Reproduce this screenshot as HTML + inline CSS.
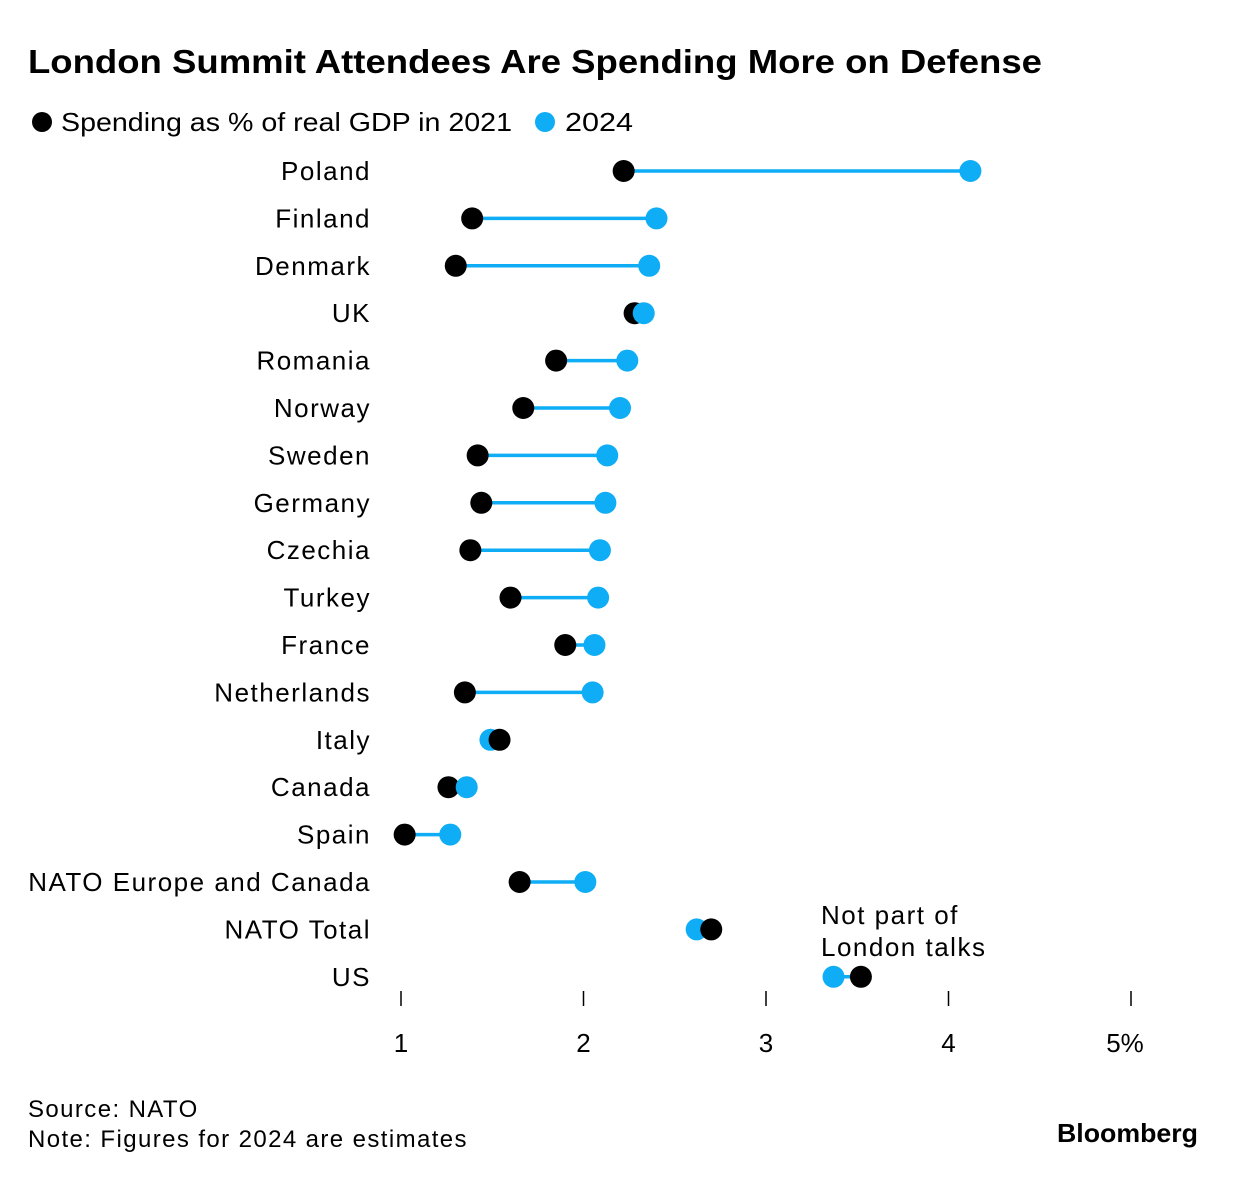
<!DOCTYPE html>
<html><head><meta charset="utf-8"><style>
body{margin:0;background:#fff;}
svg text{font-family:"Liberation Sans",Arial,sans-serif;}
</style></head><body>
<svg id="chart" width="1237" height="1194" viewBox="0 0 1237 1194" xmlns="http://www.w3.org/2000/svg">
<text x="28" y="73" font-size="33" font-weight="bold" fill="#000" textLength="1014" lengthAdjust="spacingAndGlyphs">London Summit Attendees Are Spending More on Defense</text>
<g>
<circle cx="42" cy="122" r="10" fill="#000"/>
<text x="61" y="131" font-size="26" textLength="451" lengthAdjust="spacingAndGlyphs">Spending as % of real GDP in 2021</text>
<circle cx="545" cy="122" r="10" fill="#0fadf5"/>
<text x="565" y="131" font-size="26" textLength="68" lengthAdjust="spacingAndGlyphs">2024</text>
</g>
<g id="axis"></g>
<g id="rows"></g>
<text x="821" y="924" font-size="26" letter-spacing="1.5">Not part of</text>
<text x="821" y="956" font-size="26" letter-spacing="1.5">London talks</text>
<text x="28" y="1117" font-size="24" letter-spacing="1.4">Source: NATO</text>
<text x="28" y="1147" font-size="24" letter-spacing="1.4">Note: Figures for 2024 are estimates</text>
<text x="1057" y="1142" font-size="26" font-weight="bold" textLength="141" lengthAdjust="spacingAndGlyphs">Bloomberg</text>
</svg>
<script>
const categories=["Poland","Finland","Denmark","UK","Romania","Norway","Sweden","Germany","Czechia","Turkey","France","Netherlands","Italy","Canada","Spain","NATO Europe and Canada","NATO Total","US"];
const values2021=[2.22,1.39,1.30,2.28,1.85,1.67,1.42,1.44,1.38,1.60,1.90,1.35,1.54,1.26,1.02,1.65,2.70,3.52];
const values2024=[4.12,2.40,2.36,2.33,2.24,2.20,2.13,2.12,2.09,2.08,2.06,2.05,1.49,1.36,1.27,2.01,2.62,3.37];
const tickValues=[1,2,3,4,5];
const tickLabels=["1","2","3","4","5%"];
const NS="http://www.w3.org/2000/svg";
const x=v=>401+(v-1)*182.5;
const y=i=>171+i*47.4;
function mk(tag,attrs,parent){const e=document.createElementNS(NS,tag);for(const k in attrs)e.setAttribute(k,attrs[k]);parent.appendChild(e);return e;}
const axis=document.getElementById('axis');
tickValues.forEach((t,i)=>{
 const l=mk('line',{x1:x(t),x2:x(t),y1:991,y2:1006,stroke:'#000','stroke-width':1.5},axis);
 
 
 const tx=mk('text',{x:x(t)+(i==4?-6:0),y:1052,'font-size':26,'text-anchor':'middle'},axis);
 tx.textContent=tickLabels[i];
 
 
});
const rows=document.getElementById('rows');
categories.forEach((c,i)=>{
 const g=mk('g',{},rows);
 
 
 const t=mk('text',{x:371,y:y(i)+9,'font-size':26,'text-anchor':'end','letter-spacing':1.5},g);
 t.textContent=c;
 
 
 const a=x(values2021[i]),b=x(values2024[i]);
 const ln=mk('line',{x1:a,x2:b,y1:y(i),y2:y(i),stroke:'#0fadf5','stroke-width':3.5},g);
 
 
 const order=a>b?[['2024',b,'#0fadf5'],['2021',a,'#000']]:[['2021',a,'#000'],['2024',b,'#0fadf5']];
 order.forEach(o=>{
  const d=mk('circle',{cx:o[1],cy:y(i),r:11,fill:o[2]},g);
  
  
 });
});
</script>
</body></html>
